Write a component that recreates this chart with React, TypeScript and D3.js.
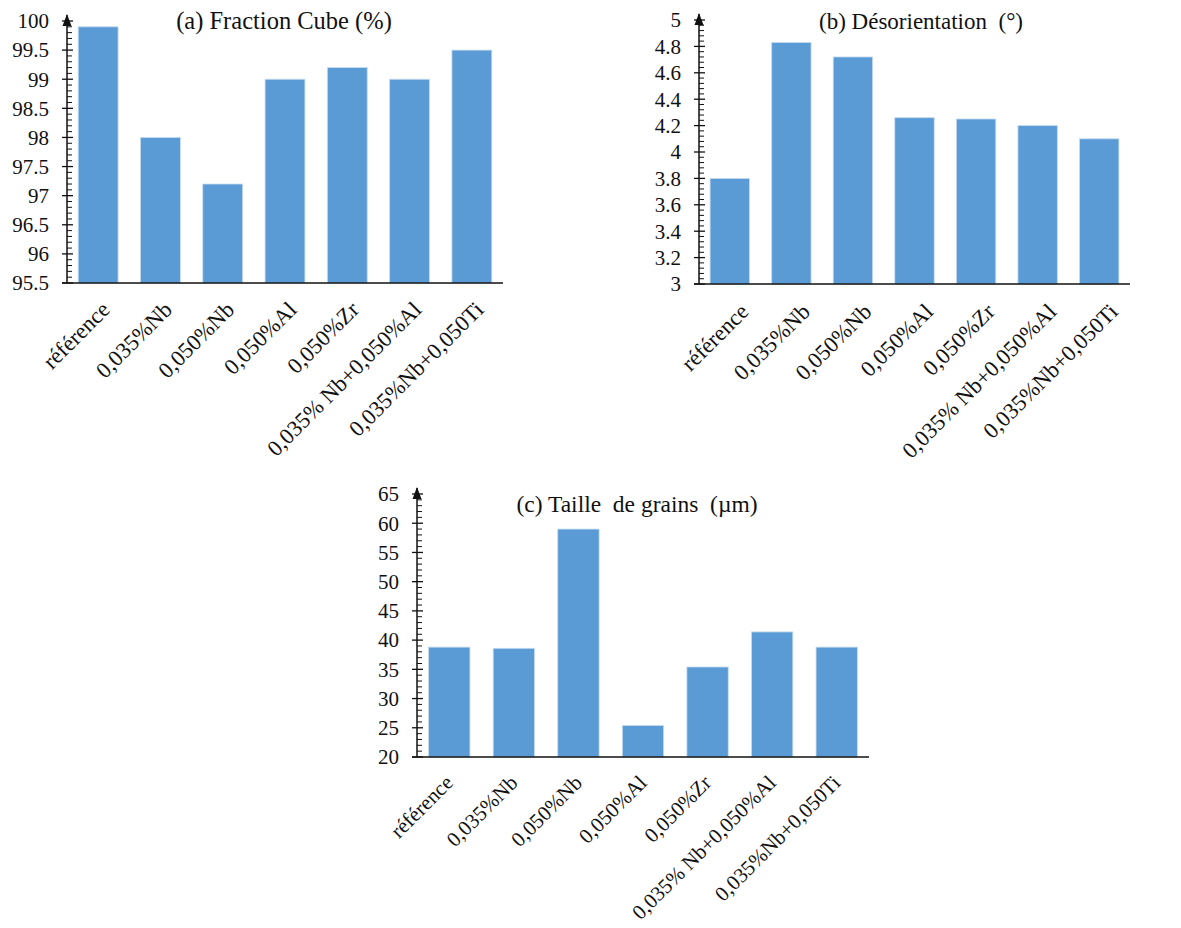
import React from "react";
import * as d3 from "d3";

const CATEGORIES = [
  "référence",
  "0,035%Nb",
  "0,050%Nb",
  "0,050%Al",
  "0,050%Zr",
  "0,035% Nb+0,050%Al",
  "0,035%Nb+0,050Ti",
];

const FRACTION_CUBE = [99.9, 98.0, 97.2, 99.0, 99.2, 99.0, 99.5];
const DESORIENTATION = [3.8, 4.83, 4.72, 4.26, 4.25, 4.2, 4.1];
const TAILLE_GRAINS = [38.8, 38.6, 59.0, 25.4, 35.4, 41.4, 38.8];

const TICKS_A = [95.5, 96, 96.5, 97, 97.5, 98, 98.5, 99, 99.5, 100];
const TICKS_B = [3, 3.2, 3.4, 3.6, 3.8, 4, 4.2, 4.4, 4.6, 4.8, 5];
const TICKS_C = [20, 25, 30, 35, 40, 45, 50, 55, 60, 65];

const TITLE_A = "(a) Fraction Cube (%)";
const TITLE_B = "(b) Désorientation  (°)";
const TITLE_C = "(c) Taille  de grains  (µm)";

const FONT = "'Liberation Serif', 'Times New Roman', serif";
const BAR = "#5B9BD5";

type PanelProps = {
  title: string;
  values: number[];
  ticks: number[];
  x0: number;
  x1: number;
  yTop: number;
  yBottom: number;
  titleX: number;
  titleY: number;
  titleSize: number;
  labelSize: number;
  labelDx: number;
  labelDy: number;
  minorDiv: number;
};

function Panel(p: PanelProps) {
  const lo = p.ticks[0];
  const hi = p.ticks[p.ticks.length - 1];
  const y = d3.scaleLinear().domain([lo, hi]).range([p.yBottom, p.yTop]);
  const x = d3
    .scaleBand<string>()
    .domain(CATEGORIES)
    .range([p.x0, p.x1])
    .paddingInner(0.36)
    .paddingOuter(0.18);
  const minors: number[] = [];
  for (let i = 0; i < p.ticks.length - 1; i++) {
    const a = p.ticks[i];
    const b = p.ticks[i + 1];
    for (let k = 1; k < p.minorDiv; k++) minors.push(a + ((b - a) * k) / p.minorDiv);
  }
  return (
    <g>
      <text
        x={p.titleX}
        y={p.titleY}
        textAnchor="middle"
        fontFamily={FONT}
        fontSize={p.titleSize}
        fill="#111"
        style={{ whiteSpace: "pre" }}
      >
        {p.title}
      </text>
      {CATEGORIES.map((c, i) => (
        <rect
          key={c}
          x={x(c)}
          y={y(p.values[i])}
          width={x.bandwidth()}
          height={p.yBottom - y(p.values[i])}
          fill={BAR}
          stroke="#c5dcf0"
          strokeWidth={0.8}
        />
      ))}
      <line x1={p.x0 - 5} x2={p.x1} y1={p.yBottom} y2={p.yBottom} stroke="#111" strokeWidth={1.5} />
      <line x1={p.x0} x2={p.x0} y1={p.yBottom} y2={p.yTop - 6} stroke="#111" strokeWidth={1.5} />
      <path
        d={`M${p.x0},${p.yTop - 7} L${p.x0 - 4.5},${p.yTop + 5} L${p.x0 + 4.5},${p.yTop + 5} Z`}
        fill="#111"
      />
      {p.ticks.map((t) => (
        <g key={t}>
          <line x1={p.x0 - 5} x2={p.x0 + 6} y1={y(t)} y2={y(t)} stroke="#111" strokeWidth={1.3} />
          <text
            x={p.x0 - 18}
            y={y(t)}
            dy="0.35em"
            textAnchor="end"
            fontFamily={FONT}
            fontSize={21}
            fill="#111"
          >
            {String(t)}
          </text>
        </g>
      ))}
      {minors.map((t, i) => (
        <line key={i} x1={p.x0} x2={p.x0 + 5} y1={y(t)} y2={y(t)} stroke="#111" strokeWidth={1} />
      ))}
      {CATEGORIES.map((c) => {
        const cx = (x(c) as number) + x.bandwidth() / 2 + p.labelDx;
        const cy = p.yBottom + p.labelDy;
        return (
          <text
            key={c}
            transform={`translate(${cx},${cy}) rotate(-45)`}
            textAnchor="end"
            fontFamily={FONT}
            fontSize={p.labelSize}
            fill="#111"
            style={{ whiteSpace: "pre" }}
          >
            {c}
          </text>
        );
      })}
    </g>
  );
}

export default function App() {
  return (
    <svg
      width={1181}
      height={928}
      style={{ position: "absolute", left: 0, top: 0, background: "#fff" }}
    >
      <rect width={1181} height={928} fill="#fff" />
      <Panel
        title={TITLE_A}
        values={FRACTION_CUBE}
        ticks={TICKS_A}
        x0={67}
        x1={503}
        yTop={21}
        yBottom={283}
        titleX={284}
        titleY={29}
        titleSize={24.5}
        labelSize={22.5}
        labelDx={13}
        labelDy={28}
        minorDiv={5}
      />
      <Panel
        title={TITLE_B}
        values={DESORIENTATION}
        ticks={TICKS_B}
        x0={699}
        x1={1130}
        yTop={20}
        yBottom={284}
        titleX={921}
        titleY={29}
        titleSize={23}
        labelSize={22.5}
        labelDx={20}
        labelDy={29}
        minorDiv={5}
      />
      <Panel
        title={TITLE_C}
        values={TAILLE_GRAINS}
        ticks={TICKS_C}
        x0={417}
        x1={869}
        yTop={494}
        yBottom={757}
        titleX={637}
        titleY={512}
        titleSize={23.5}
        labelSize={21}
        labelDx={5}
        labelDy={27}
        minorDiv={5}
      />
    </svg>
  );
}
